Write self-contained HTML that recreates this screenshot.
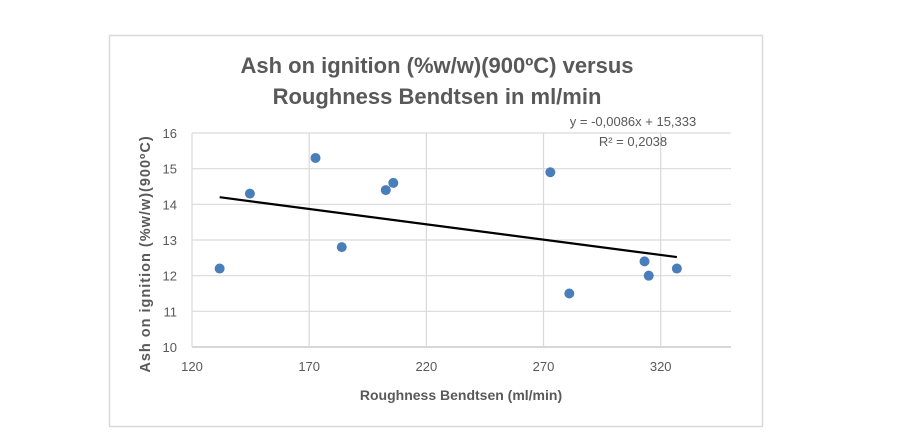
<!DOCTYPE html>
<html><head><meta charset="utf-8"><style>
body{margin:0;background:#fff;width:922px;height:434px;overflow:hidden}
svg text{font-family:"Liberation Sans Narrow","Liberation Sans",sans-serif;fill:#595959}
</style></head><body>
<svg id="chart" width="922" height="434" xmlns="http://www.w3.org/2000/svg">
<rect x="109.5" y="35.5" width="653" height="391" fill="#fff" stroke="#d9d9d9" stroke-width="1.5"/>
<text x="437" y="73" text-anchor="middle" font-size="22" font-weight="bold">Ash on ignition (%w/w)(900ºC) versus</text>
<text x="437" y="104" text-anchor="middle" font-size="22" font-weight="bold">Roughness Bendtsen in ml/min</text>
<g id="grid"></g><g id="ticks"></g><g id="marks"></g>
<text x="633" y="126" text-anchor="middle" font-size="13">y = -0,0086x + 15,333</text>
<text x="633" y="146" text-anchor="middle" font-size="13">R² = 0,2038</text>
<text x="461" y="400" text-anchor="middle" font-size="14" font-weight="bold">Roughness Bendtsen (ml/min)</text>
<text transform="translate(150,254) rotate(-90)" text-anchor="middle" font-size="14.5" font-weight="bold" letter-spacing="1">Ash on ignition (%w/w)(900ºC)</text>
</svg>
<script>
const xVals=[131.8,144.7,172.7,183.9,202.7,205.9,272.9,281,313.1,314.9,326.9];
const yVals=[12.2,14.3,15.3,12.8,14.4,14.6,14.9,11.5,12.4,12.0,12.2];
const xTicks=[120,170,220,270,320];
const yTicks=[10,11,12,13,14,15,16];
const slope=-0.0086, intercept=15.333;
const X0=192,X1=731,Y0=347,Y1=133,xmin=120,xmax=350,ymin=10,ymax=16;
const sx=v=>X0+(v-xmin)/(xmax-xmin)*(X1-X0);
const sy=v=>Y0-(v-ymin)/(ymax-ymin)*(Y0-Y1);
const NS="http://www.w3.org/2000/svg";
function mk(t,a,p){const e=document.createElementNS(NS,t);for(const k in a)e.setAttribute(k,a[k]);p.appendChild(e);return e;}
const g=document.getElementById('grid'),tk=document.getElementById('ticks'),m=document.getElementById('marks');
yTicks.forEach(v=>{
 const l=mk('line',{x1:X0,x2:X1,y1:sy(v),y2:sy(v),stroke:v===ymin?'#bfbfbf':'#d9d9d9','stroke-width':1.2},g);
 
 
 const t=mk('text',{x:177,y:sy(v)+5,'text-anchor':'end','font-size':13},tk);t.textContent=v;
 
 
});
xTicks.forEach(v=>{
 const l=mk('line',{x1:sx(v),x2:sx(v),y1:Y0,y2:Y1,stroke:'#d9d9d9','stroke-width':1.2},g);
 
 
 const t=mk('text',{x:sx(v),y:371,'text-anchor':'middle','font-size':13},tk);t.textContent=v;
 
 
});
xVals.forEach((x,i)=>{
 const c=mk('circle',{cx:sx(x),cy:sy(yVals[i]),r:5,fill:'#4a7ebb'},m);
 
 
});
const xa=Math.min(...xVals),xb=Math.max(...xVals);
const tl=mk('line',{x1:sx(xa),y1:sy(slope*xa+intercept),x2:sx(xb),y2:sy(slope*xb+intercept),stroke:'#000','stroke-width':2.2},m);


</script>
</body></html>
